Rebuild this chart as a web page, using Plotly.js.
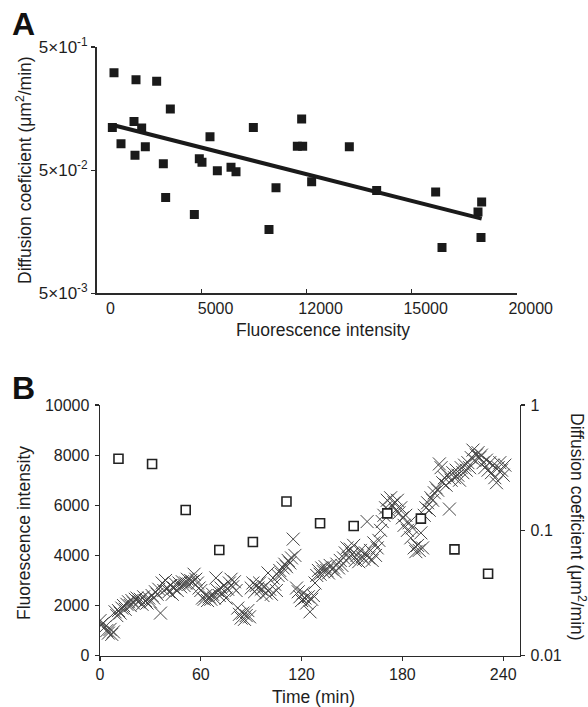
<!DOCTYPE html>
<html>
<head>
<meta charset="utf-8">
<script src="https://cdn.plot.ly/plotly-3.0.1.min.js"></script>
<style>html,body{margin:0;padding:0;background:#fff;}#chart{width:588px;height:707px;}</style>
</head>
<body>
<div id="chart"></div>
<script>
// Panel A: fluorescence intensity vs diffusion coefficient
var aIntensity = [833,1880,2864,3514,754,1785,2150,1166,2324,1832,3181,3292,4657,5402,4894,5021,5751,6402,6640,7465,8544,8210,9765,9559,9813,10241,12034,13335,16143,16445,18332,18158,18301];
var aDiffusion = [0.309,0.271,0.263,0.157,0.111,0.124,0.110,0.0819,0.0774,0.0662,0.0563,0.030,0.0218,0.0933,0.0618,0.058,0.0494,0.0529,0.0485,0.111,0.0359,0.0165,0.130,0.0783,0.0783,0.0402,0.0774,0.0342,0.0333,0.0118,0.0276,0.0229,0.0142];
var aFitX = [912, 18332];
var aFitY = [0.1147, 0.0202];
var aXTickVals = [0, 5000, 10000, 15000, 20000];
var aXTickText = ["0", "5000", "12000", "15000", "20000"];
var aYTickVals = [0.005, 0.05, 0.5];
var aYTickText = ["5×10<sup>-3</sup>", "5×10<sup>-2</sup>", "5×10<sup>-1</sup>"];

// Panel B: time course
var bTime = [0,1,2,3,4,5,6,7,8,9,10,11,12,13,14,15,16,17,18,19,20,21,22,23,24,25,26,27,28,29,30,31,32,33,34,35,36,37,38,39,40,41,42,43,44,45,46,47,48,49,50,51,52,53,54,55,56,57,58,59,60,61,62,63,64,65,66,67,68,69,70,71,72,73,74,75,76,77,78,79,80,81,82,83,84,85,86,87,88,89,90,91,92,93,94,95,96,97,98,99,100,101,102,103,104,105,106,107,108,109,110,111,112,113,114,115,116,117,118,119,120,121,122,123,124,125,126,127,128,129,130,131,132,133,134,135,136,137,138,139,140,141,142,143,144,145,146,147,148,149,150,151,152,153,154,155,156,157,158,159,160,161,162,163,164,165,166,167,168,169,170,171,172,173,174,175,176,177,178,179,180,181,182,183,184,185,186,187,188,189,190,191,192,193,194,195,196,197,198,199,200,201,202,203,204,205,206,207,208,209,210,211,212,213,214,215,216,217,218,219,220,221,222,223,224,225,226,227,228,229,230,231,232,233,234,235,236,237,238,239,240,241];
var bIntensity = [1400,1250,1300,1150,1000,900,1050,850,950,1750,1600,1800,1700,1900,2000,1850,2050,2150,2000,2200,2100,2250,2300,2150,2250,2050,2350,2200,2100,2300,2150,2400,2300,2550,2450,2650,1700,2900,2600,3000,2700,2550,2800,2450,2700,2850,2600,2900,2750,2950,2800,2900,3050,2850,3000,2950,3250,3050,2900,2700,
2600,2300,2250,2400,2200,2350,2250,2450,2300,3100,2600,2400,2700,2500,2800,2300,2650,2900,3050,2750,2950,2600,1900,1650,1500,1700,1450,1600,1800,1550,2700,2900,2550,2800,2700,2900,2650,2400,2750,2500,3300,2650,2450,3100,2850,2600,3200,3400,3250,3500,3650,3550,3800,3700,3900,4650,4000,2700,2550,2350,2200,2500,2300,2100,2350,1750,2250,2400,
2900,3200,3400,3250,3500,3350,3550,3400,3300,3600,3450,3500,3350,3650,3500,3800,3600,3900,4100,4300,3900,4250,4050,4400,3800,4000,3750,4200,3950,3850,4100,5350,3900,4200,3800,4500,4000,4300,4600,5000,5350,5600,5900,6200,5800,6300,6000,
6100,5800,6200,5700,5900,5500,5200,5600,5000,5300,4700,5100,4300,4150,4400,4200,4900,4300,5600,5900,6100,5800,6300,6200,6500,6700,6600,7650,7500,6900,7100,6800,7200,5850,7000,7300,7100,7400,7200,7000,7500,7300,7600,7400,7700,7500,7900,8200,7800,8000,8100,7900,8000,7700,7500,7800,7400,7700,7300,7600,7100,6900,7500,7700,7400,7200,7600];
var bDiffTime = [11,31,51,71,91,111,131,151,171,191,211,231];
var bDiffusion = [0.373,0.338,0.1453,0.0697,0.0807,0.170,0.1138,0.1083,0.1367,0.124,0.0705,0.0451];
var bXTickVals = [0, 60, 120, 180, 240];
var bYTickVals = [0, 2000, 4000, 6000, 8000, 10000];
var bYTickText = ["0", "2000", "4000", "6000", "8000", "10000"];
var bY2TickVals = [0.01, 0.1, 1];
var bY2TickText = ["0.01", "0.1", "1"];

var W = 588, H = 707;
function px(x){ return x / W; }
function py(y){ return 1 - y / H; }

var FONT = "Liberation Sans, Arial, Helvetica, sans-serif";
var AX = "#2a2a2a";
var TXT = "#1e1e1e";
var TITLE = 17.5;

var traces = [
  {x: aIntensity, y: aDiffusion, xaxis: "x", yaxis: "y", type: "scatter", mode: "markers",
   marker: {symbol: "square", size: 9, color: "#1a1a1a", line: {width: 0}}, hoverinfo: "skip"},
  {x: aFitX, y: aFitY, xaxis: "x", yaxis: "y", type: "scatter", mode: "lines",
   line: {color: "#1a1a1a", width: 4}, hoverinfo: "skip"},
  {x: bTime, y: bIntensity, xaxis: "x2", yaxis: "y2", type: "scatter", mode: "markers",
   marker: {symbol: "x-thin-open", size: 13, color: "#444444", line: {color: "#444444", width: 1}}, hoverinfo: "skip"},
  {x: bDiffTime, y: bDiffusion, xaxis: "x2", yaxis: "y3", type: "scatter", mode: "markers",
   marker: {symbol: "square", size: 9, color: "#ffffff", line: {color: "#222222", width: 1.6}}, hoverinfo: "skip"}
];

var common = {showgrid: false, zeroline: false, showline: true, linecolor: AX, linewidth: 1.4,
  tickcolor: AX, tickwidth: 1.2, ticklen: 4, tickfont: {family: FONT, size: 16, color: TXT}, automargin: false, fixedrange: true};

function ax(o){ return Object.assign({}, common, o); }

var layout = {
  width: W, height: H,
  margin: {l: 0, r: 0, t: 0, b: 0},
  paper_bgcolor: "#ffffff", plot_bgcolor: "rgba(0,0,0,0)",
  showlegend: false,
  font: {family: FONT, size: 16, color: TXT},
  xaxis: ax({domain: [px(96.5), px(516.7)], anchor: "y", range: [0, 20000], tickmode: "array",
    tickvals: aXTickVals, ticktext: aXTickText, ticks: "inside", ticklabelshift: 14}),
  yaxis: ax({domain: [py(293.3), py(47)], anchor: "x", type: "log", range: [Math.log10(0.005), Math.log10(0.5)],
    tickmode: "array", tickvals: aYTickVals, ticktext: aYTickText, ticks: "outside",
    tickfont: {family: FONT, size: 17, color: TXT}}),
  xaxis2: ax({domain: [px(100), px(520)], anchor: "y2", range: [0, 250], tickmode: "array",
    tickvals: bXTickVals, ticks: "outside", ticklabelstandoff: 0}),
  yaxis2: ax({domain: [py(655.7), py(405)], anchor: "x2", range: [0, 10000], tickmode: "array",
    tickvals: bYTickVals, ticktext: bYTickText, ticks: "outside", ticklabelstandoff: 2}),
  yaxis3: ax({domain: [py(655.7), py(405)], anchor: "x2", overlaying: "y2", side: "right", type: "log",
    range: [-2, 0], tickmode: "array", tickvals: bY2TickVals, ticktext: bY2TickText, ticks: "outside", ticklabelstandoff: 2}),
  annotations: [
    {text: "<b>A</b>", xref: "paper", yref: "paper", x: px(10), y: py(4), xanchor: "left", yanchor: "top", showarrow: false,
     font: {family: FONT, size: 32, color: "#111"}},
    {text: "<b>B</b>", xref: "paper", yref: "paper", x: px(10), y: py(368), xanchor: "left", yanchor: "top", showarrow: false,
     font: {family: FONT, size: 32, color: "#111"}},
    {text: "Diffusion coeficient (μm<sup>2</sup>/min)", xref: "paper", yref: "paper", x: px(24), y: py(170), xanchor: "center", yanchor: "middle",
     textangle: -90, showarrow: false, font: {family: FONT, size: TITLE, color: TXT}},
    {text: "Fluorescence intensity", xref: "paper", yref: "paper", x: px(323), y: py(330), xanchor: "center", yanchor: "middle",
     showarrow: false, font: {family: FONT, size: TITLE, color: TXT}},
    {text: "Fluorescence intensity", xref: "paper", yref: "paper", x: px(24), y: py(533), xanchor: "center", yanchor: "middle",
     textangle: -90, showarrow: false, font: {family: FONT, size: TITLE, color: TXT}},
    {text: "Time (min)", xref: "paper", yref: "paper", x: px(313), y: py(697), xanchor: "center", yanchor: "middle",
     showarrow: false, font: {family: FONT, size: TITLE, color: TXT}},
    {text: "Diffusion coeficient (μm<sup>2</sup>/min)", xref: "paper", yref: "paper", x: px(578), y: py(527), xanchor: "center", yanchor: "middle",
     textangle: 90, showarrow: false, font: {family: FONT, size: TITLE, color: TXT}}
  ]
};

Plotly.newPlot("chart", traces, layout, {staticPlot: true, displayModeBar: false});
</script>
</body>
</html>
